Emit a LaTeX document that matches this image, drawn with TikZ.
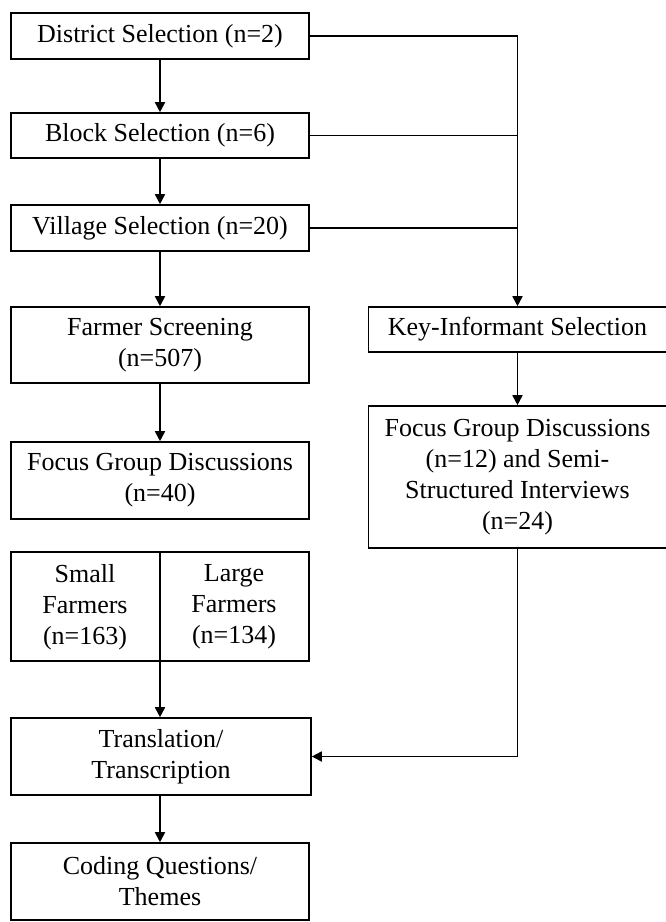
\documentclass[tikz,border=0pt]{standalone}
\usepackage{fontspec}
\setmainfont{Liberation Serif}
\usetikzlibrary{arrows.meta}
\begin{document}
\begin{tikzpicture}[x=1pt,y=-1pt,
  box/.style={draw=black, line width=1.6pt, inner sep=0pt, align=center,
    font=\fontsize{26}{31}\selectfont},
  lbl/.style={inner sep=0pt, align=center, font=\fontsize{26}{31}\selectfont},
  conn/.style={line width=1.7pt},
  arr/.style={line width=1.7pt, -{Triangle[length=10pt,width=10pt]}}]
\useasboundingbox (0,0) rectangle (665,922);
\fill[white] (0,0) rectangle (665,922);
% left column
\node[box, minimum width=298pt, minimum height=46pt] (d) at (160,36) {District Selection (n=2)};
\node[box, minimum width=298pt, minimum height=45pt] (b) at (160,135.5) {Block Selection (n=6)};
\node[box, minimum width=298pt, minimum height=46pt] (v) at (160,228) {Village Selection (n=20)};
\node[box, minimum width=298pt, minimum height=76pt] (fs) at (160,345) {Farmer Screening\\(n=507)};
\node[box, minimum width=298pt, minimum height=77pt] (fg) at (160,480.5) {Focus Group Discussions\\(n=40)};
\node[box, minimum width=298pt, minimum height=109pt] (sl) at (160,606.5) {};
\node[lbl] (sm) at (85,607) {Small\\Farmers\\(n=163)};
\node[lbl] (lg) at (234,607) {Large\\Farmers\\(n=134)};
\node[box, minimum width=300pt, minimum height=77pt] (tr) at (161,756.5) {Translation/\\Transcription};
\node[box, minimum width=298pt, minimum height=77pt] (cq) at (160,881.5) {Coding Questions/\\Themes};
% right column
\node[box, minimum width=298pt, minimum height=45pt] (k) at (517.5,329.5) {Key-Informant Selection};
\node[box, minimum width=298pt, minimum height=142pt] (f2) at (517.5,477) {Focus Group Discussions\\(n=12) and Semi-\\Structured Interviews\\(n=24)};
% connectors
\draw[arr] (d.south) -- (b.north);
\draw[arr] (b.south) -- (v.north);
\draw[arr] (v.south) -- (fs.north);
\draw[arr] (fs.south) -- (fg.north);
\draw[arr] (sl.north) -- (sl.north |- tr.north);
\draw[arr] (tr.south -| cq.north) -- (cq.north);
\draw[arr] (d.east) -| (k.north);
\draw[conn] (b.east) -- (b.east -| k.north);
\draw[conn] (v.east) -- (v.east -| k.north);
\draw[arr] (k.south) -- (f2.north);
\draw[arr] (f2.south) |- (tr.east);
\end{tikzpicture}
\end{document}
